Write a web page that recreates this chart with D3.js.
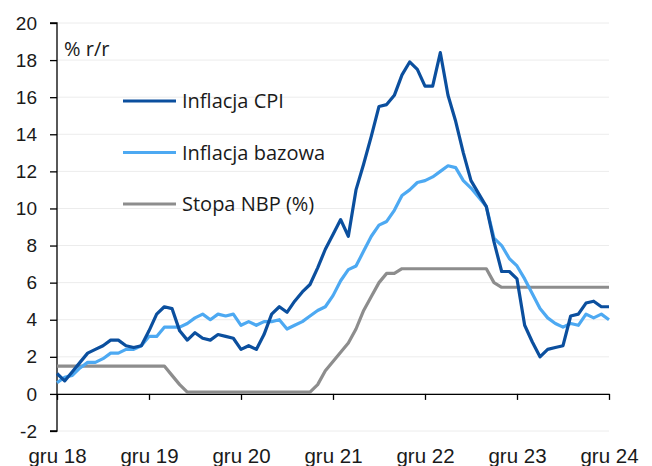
<!DOCTYPE html>
<html>
<head>
<meta charset="utf-8">
<script src="https://cdn.jsdelivr.net/npm/d3@7"></script>
<style>
  body { margin: 0; background: #fff; }
  svg { display: block; font-family: "Open Sans", sans-serif; }
  .grid line { stroke: #ececec; stroke-width: 1; }
  .axis path, .axis line { stroke: #000; stroke-width: 1.3; }
  .axis text { fill: #1a1a1a; }
</style>
</head>
<body>
<div id="chart"></div>
<script>
// monthly, gru 18 .. gru 24
const yearLabels = ['gru 18', 'gru 19', 'gru 20', 'gru 21', 'gru 22', 'gru 23', 'gru 24'];
const yTicks = [-2, 0, 2, 4, 6, 8, 10, 12, 14, 16, 18, 20];

const cpi = [
  1.1,
  0.7, 1.2, 1.7, 2.2, 2.4, 2.6, 2.9, 2.9, 2.6, 2.5, 2.6, 3.4,
  4.3, 4.7, 4.6, 3.4, 2.9, 3.3, 3.0, 2.9, 3.2, 3.1, 3.0, 2.4,
  2.6, 2.4, 3.2, 4.3, 4.7, 4.4, 5.0, 5.5, 5.9, 6.8, 7.8, 8.6,
  9.4, 8.5, 11.0, 12.4, 13.9, 15.5, 15.6, 16.1, 17.2, 17.9, 17.5, 16.6,
  16.6, 18.4, 16.1, 14.7, 13.0, 11.5, 10.8, 10.1, 8.2, 6.6, 6.6, 6.2,
  3.7, 2.8, 2.0, 2.4, 2.5, 2.6, 4.2, 4.3, 4.9, 5.0, 4.7, 4.7
];
const core = [
  0.6,
  0.9, 1.0, 1.4, 1.7, 1.7, 1.9, 2.2, 2.2, 2.4, 2.4, 2.6, 3.1,
  3.1, 3.6, 3.6, 3.6, 3.8, 4.1, 4.3, 4.0, 4.3, 4.2, 4.3, 3.7,
  3.9, 3.7, 3.9, 3.9, 4.0, 3.5, 3.7, 3.9, 4.2, 4.5, 4.7, 5.3,
  6.1, 6.7, 6.9, 7.7, 8.5, 9.1, 9.3, 9.9, 10.7, 11.0, 11.4, 11.5,
  11.7, 12.0, 12.3, 12.2, 11.5, 11.1, 10.6, 10.1, 8.4, 8.0, 7.3, 6.9,
  6.2, 5.4, 4.6, 4.1, 3.8, 3.6, 3.8, 3.7, 4.3, 4.1, 4.3, 4.0
];
const nbpRate = [
  1.5,
  1.5, 1.5, 1.5, 1.5, 1.5, 1.5, 1.5, 1.5, 1.5, 1.5, 1.5, 1.5,
  1.5, 1.5, 1.0, 0.5, 0.1, 0.1, 0.1, 0.1, 0.1, 0.1, 0.1, 0.1,
  0.1, 0.1, 0.1, 0.1, 0.1, 0.1, 0.1, 0.1, 0.1, 0.5, 1.25, 1.75,
  2.25, 2.75, 3.5, 4.5, 5.25, 6.0, 6.5, 6.5, 6.75, 6.75, 6.75, 6.75,
  6.75, 6.75, 6.75, 6.75, 6.75, 6.75, 6.75, 6.75, 6.0, 5.75, 5.75, 5.75,
  5.75, 5.75, 5.75, 5.75, 5.75, 5.75, 5.75, 5.75, 5.75, 5.75, 5.75, 5.75
];

const series = [
  { name: 'Inflacja CPI', values: cpi, color: '#0b4f9e' },
  { name: 'Inflacja bazowa', values: core, color: '#4da9f2' },
  { name: 'Stopa NBP (%)', values: nbpRate, color: '#8d8d8d' }
];

const width = 652, height = 466;
const x0 = 57, x1 = 609, yTop = 23, yBot = 431;

const svg = d3.select('#chart').append('svg')
  .attr('width', width)
  .attr('height', height);

const xScale = d3.scaleLinear().domain([0, cpi.length - 1]).range([x0, x1]);
const yScale = d3.scaleLinear().domain([-2, 20]).range([yBot, yTop]);

// grid
svg.append('g').attr('class', 'grid')
  .selectAll('line')
  .data(yTicks)
  .join('line')
    .attr('x1', x0).attr('x2', x1)
    .attr('y1', d => yScale(d)).attr('y2', d => yScale(d));

// y axis
const yAxis = d3.axisLeft(yScale)
  .tickValues(yTicks)
  .tickFormat(d => d < 0 ? '-' + Math.abs(d) : d)
  .tickSize(7)
  .tickPadding(13);
const yAxisG = svg.append('g').attr('class', 'axis y')
  .attr('transform', `translate(${x0},0)`)
  .call(yAxis);
yAxisG.select('.domain').attr('d', `M-7,${yBot}H0V${yTop}H-7`);
yAxisG.selectAll('text').style('font-size', '19px');

// x axis on the zero line
const xAxis = d3.axisBottom(xScale)
  .tickValues(d3.range(0, cpi.length, 12))
  .tickFormat((d, i) => yearLabels[i])
  .tickSize(6)
  .tickSizeOuter(0)
  .tickPadding(0);
const xAxisG = svg.append('g').attr('class', 'axis x')
  .attr('transform', `translate(0,${yScale(0)})`)
  .call(xAxis);
xAxisG.selectAll('text')
  .attr('y', 463 - yScale(0))
  .attr('dy', 0)
  .style('font-size', '20.5px');

// lines
const line = d3.line()
  .x((d, i) => xScale(i))
  .y(d => yScale(d));

svg.append('g').selectAll('path')
  .data(series.slice().reverse())
  .join('path')
    .attr('fill', 'none')
    .attr('stroke', d => d.color)
    .attr('stroke-width', 3.2)
    .attr('stroke-linejoin', 'round')
    .attr('d', d => line(d.values));

// unit label
svg.append('text')
  .attr('x', 64).attr('y', 56)
  .style('font-size', '20px')
  .attr('fill', '#1a1a1a')
  .text('% r/r');

// legend
const legend = svg.append('g').selectAll('g')
  .data(series)
  .join('g')
    .attr('transform', (d, i) => `translate(123,${101 + i * 51.5})`);
legend.append('line')
  .attr('x1', 0).attr('x2', 53)
  .attr('stroke', d => d.color)
  .attr('stroke-width', 3.2);
legend.append('text')
  .attr('x', 59).attr('y', 7)
  .style('font-size', '20px')
  .attr('fill', '#1a1a1a')
  .text(d => d.name);
</script>
</body>
</html>
